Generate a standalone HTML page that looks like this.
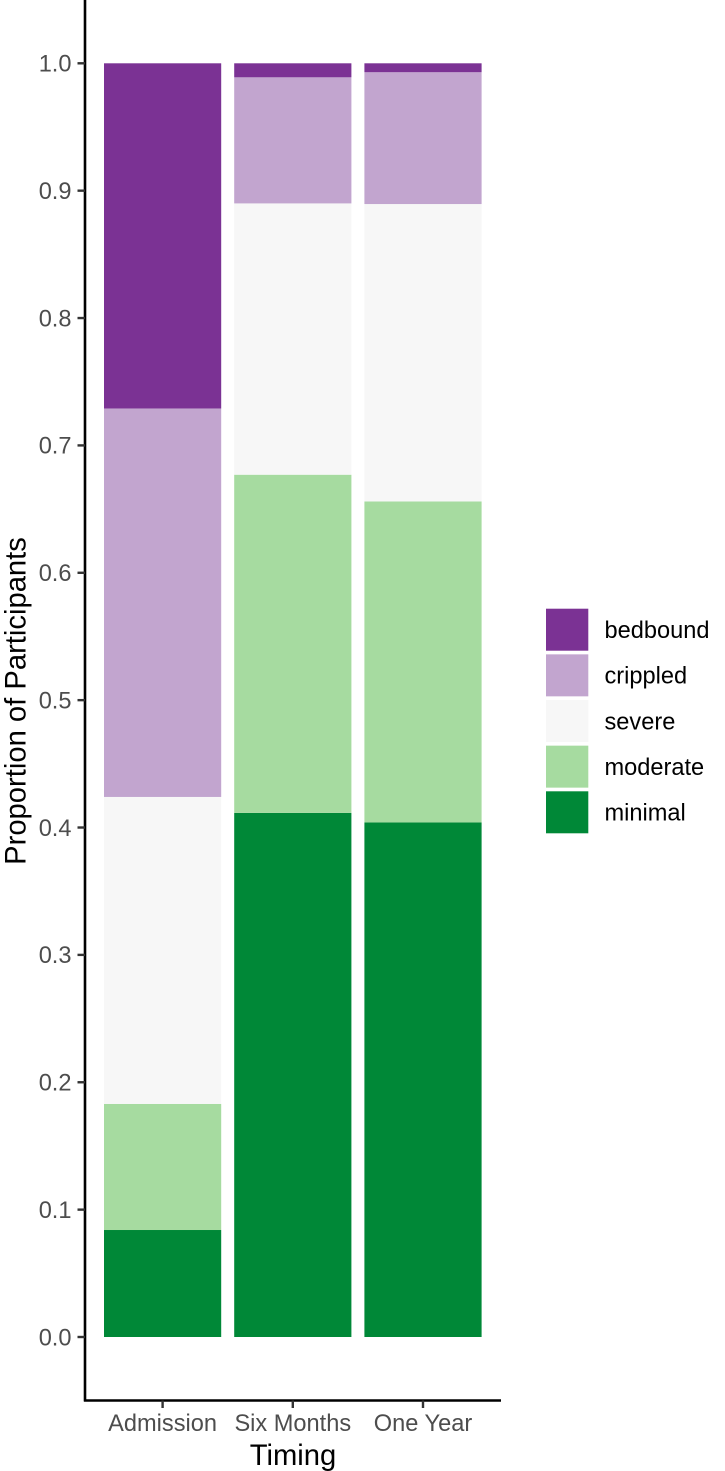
<!DOCTYPE html>
<html>
<head>
<meta charset="utf-8">
<style>
html,body{margin:0;padding:0;background:#fff;width:725px;height:1471px;overflow:hidden}
svg{display:block;font-family:"Liberation Sans",Arial,sans-serif}
</style>
</head>
<body>
<svg id="chart" width="725" height="1471" viewBox="0 0 725 1471" xmlns="http://www.w3.org/2000/svg"></svg>
<script>
const categories = ["Admission", "Six Months", "One Year"];
const levels = ["minimal", "moderate", "severe", "crippled", "bedbound"];
const minimal = [0.084, 0.4115, 0.404];
const moderate = [0.099, 0.2655, 0.252];
const severe = [0.241, 0.213, 0.2335];
const crippled = [0.305, 0.099, 0.1035];
const bedbound = [0.271, 0.011, 0.007];
const yTicks = [0.0, 0.1, 0.2, 0.3, 0.4, 0.5, 0.6, 0.7, 0.8, 0.9, 1.0];
const colors = {minimal:"#008837", moderate:"#a6dba0", severe:"#f7f7f7", crippled:"#c2a5cf", bedbound:"#7b3294"};
const series = {minimal, moderate, severe, crippled, bedbound};

const svg = document.getElementById('chart');
const NS = 'http://www.w3.org/2000/svg';
function add(tag, attrs, text, parent) {
  const el = document.createElementNS(NS, tag);
  for (const k in attrs) el.setAttribute(k, attrs[k]);
  if (text !== undefined) el.textContent = text;
  (parent || svg).appendChild(el);
  return el;
}
const yScale = v => 1337 - v * 1273.7;
const xScale = i => 162.6 + i * 130.2;
const barWidth = 117.2;
const axisX = 85;
const axisY = 1400.5;

// bars
categories.forEach((cat, i) => {
  let cum = 0;
  levels.forEach(level => {
    const v = series[level][i];
    const y0 = yScale(cum);
    const y1 = yScale(cum + v);
    const r = add('rect', {x: xScale(i) - barWidth / 2, y: y1, width: barWidth, height: y0 - y1, fill: colors[level]});
    
    
    cum += v;
  });
});

// y axis
const yLine = add('line', {x1: axisX, y1: 0, x2: axisX, y2: axisY + 1, stroke: '#000', 'stroke-width': 2.6});


yTicks.forEach(t => {
  const tick = add('line', {x1: 77.5, y1: yScale(t), x2: axisX, y2: yScale(t), stroke: '#333', 'stroke-width': 2.4});
  
  
  const lab = add('text', {x: 71.5, y: yScale(t) + 8.3, 'text-anchor': 'end', 'font-size': 23.6, fill: '#4d4d4d'}, t.toFixed(1));
  
  
});

// x axis
const xLine = add('line', {x1: axisX - 1, y1: axisY, x2: 501, y2: axisY, stroke: '#000', 'stroke-width': 2.6});


categories.forEach((cat, i) => {
  const tick = add('line', {x1: xScale(i), y1: axisY, x2: xScale(i), y2: 1408, stroke: '#333', 'stroke-width': 2.4});
  
  
  const lab = add('text', {x: xScale(i), y: 1431, 'text-anchor': 'middle', 'font-size': 23.6, fill: '#4d4d4d'}, cat);
  
  
});

// axis titles
const xTitle = add('text', {x: 293, y: 1465, 'text-anchor': 'middle', 'font-size': 29.2, fill: '#000'}, 'Timing');


const yTitle = add('text', {transform: 'translate(25.5,701) rotate(-90)', 'text-anchor': 'middle', 'font-size': 29.2, fill: '#000'}, 'Proportion of Participants');



// legend
const legendOrder = levels.slice().reverse();
legendOrder.forEach((level, i) => {
  const top = 608.7 + i * 45.65;
  const swatch = add('rect', {x: 546, y: top, width: 42.3, height: 42, fill: colors[level]});
  
  
  const lab = add('text', {x: 604.5, y: top + 29.3, 'font-size': 23.6, fill: '#000'}, level);
  
  
});
</script>
</body>
</html>
